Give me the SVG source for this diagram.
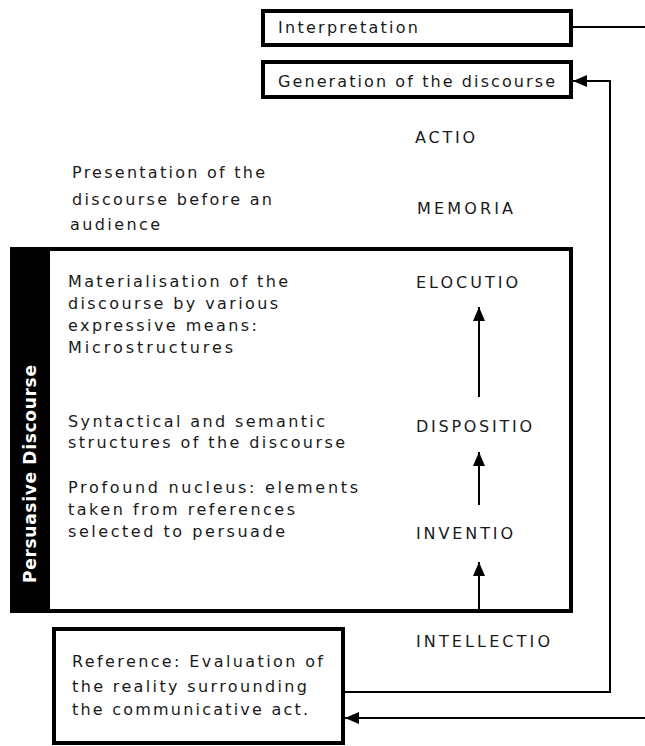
<svg xmlns="http://www.w3.org/2000/svg" width="645" height="746" viewBox="0 0 645 746">
<style>
  .box { fill: #fff; stroke: #000; stroke-width: 4; }
  .t { font-family: "DejaVu Sans", "Liberation Sans", sans-serif; font-size: 16px; fill: #1a1a1a; }
  .c { fill: none; stroke: #000; stroke-width: 2; }
  .band { font-family: "DejaVu Sans", "Liberation Sans", sans-serif; font-size: 17px; font-weight: bold; fill: #fff; }
</style>
<defs>
  <marker id="ah" viewBox="0 0 14 12" refX="14" refY="6" markerWidth="14" markerHeight="12" markerUnits="userSpaceOnUse" orient="auto">
    <path d="M0,0 L14,6 L0,12 z" fill="#000"/>
  </marker>
</defs>
<rect width="645" height="746" fill="#fff"/>

<g id="interpretation">
  <rect class="box" x="263" y="11" width="308" height="34"/>
  <text class="t" x="278" y="33" textLength="140" lengthAdjust="spacing">Interpretation</text>
</g>
<g id="generation">
  <rect class="box" x="263" y="62" width="308" height="35"/>
  <text class="t" x="278" y="87" textLength="277" lengthAdjust="spacing">Generation of the discourse</text>
</g>

<g id="actio"><text class="t" x="415" y="143" textLength="60" lengthAdjust="spacing">ACTIO</text></g>
<g id="memoria"><text class="t" x="417" y="214" textLength="96" lengthAdjust="spacing">MEMORIA</text></g>
<g id="presentation">
  <text class="t" x="72" y="178" textLength="193" lengthAdjust="spacing">Presentation of the</text>
  <text class="t" x="72" y="205" textLength="200" lengthAdjust="spacing">discourse before an</text>
  <text class="t" x="70" y="230" textLength="90" lengthAdjust="spacing">audience</text>
</g>

<g id="persuasive-discourse">
  <rect class="box" x="12" y="249" width="559" height="362"/>
  <rect x="10" y="247" width="40" height="366" fill="#000"/>
  <text class="band" x="0" y="0" text-anchor="middle" transform="translate(36,474) rotate(-90)" textLength="218" lengthAdjust="spacing">Persuasive Discourse</text>
</g>

<g id="materialisation">
  <text class="t" x="68" y="287" textLength="220" lengthAdjust="spacing">Materialisation of the</text>
  <text class="t" x="68" y="309" textLength="210" lengthAdjust="spacing">discourse by various</text>
  <text class="t" x="68" y="331" textLength="189" lengthAdjust="spacing">expressive means:</text>
  <text class="t" x="68" y="353" textLength="165" lengthAdjust="spacing">Microstructures</text>
</g>
<g id="elocutio"><text class="t" x="416" y="288" textLength="102" lengthAdjust="spacing">ELOCUTIO</text></g>

<g id="syntactical">
  <text class="t" x="68" y="427" textLength="257" lengthAdjust="spacing">Syntactical and semantic</text>
  <text class="t" x="68" y="448" textLength="277" lengthAdjust="spacing">structures of the discourse</text>
</g>
<g id="dispositio"><text class="t" x="416" y="432" textLength="116" lengthAdjust="spacing">DISPOSITIO</text></g>

<g id="profound">
  <text class="t" x="68" y="493" textLength="290" lengthAdjust="spacing">Profound nucleus: elements</text>
  <text class="t" x="68" y="515" textLength="227" lengthAdjust="spacing">taken from references</text>
  <text class="t" x="68" y="537" textLength="217" lengthAdjust="spacing">selected to persuade</text>
</g>
<g id="inventio"><text class="t" x="416" y="539" textLength="97" lengthAdjust="spacing">INVENTIO</text></g>

<g id="intellectio"><text class="t" x="416" y="647" textLength="134" lengthAdjust="spacing">INTELLECTIO</text></g>

<g id="reference">
  <rect class="box" x="54" y="629" width="289" height="114"/>
  <text class="t" x="72" y="667" textLength="251" lengthAdjust="spacing">Reference: Evaluation of</text>
  <text class="t" x="72" y="692" textLength="235" lengthAdjust="spacing">the reality surrounding</text>
  <text class="t" x="72" y="715" textLength="236" lengthAdjust="spacing">the communicative act.</text>
</g>

<g id="connectors">
  <path class="c" d="M573,27 H645"/>
  <path class="c" d="M345,692 H610 V81 H573" marker-end="url(#ah)"/>
  <path class="c" d="M645,718 H345" marker-end="url(#ah)"/>
  <path class="c" d="M479,397 V307" marker-end="url(#ah)"/>
  <path class="c" d="M479,505 V452" marker-end="url(#ah)"/>
  <path class="c" d="M479,611 V562" marker-end="url(#ah)"/>
</g>
</svg>
